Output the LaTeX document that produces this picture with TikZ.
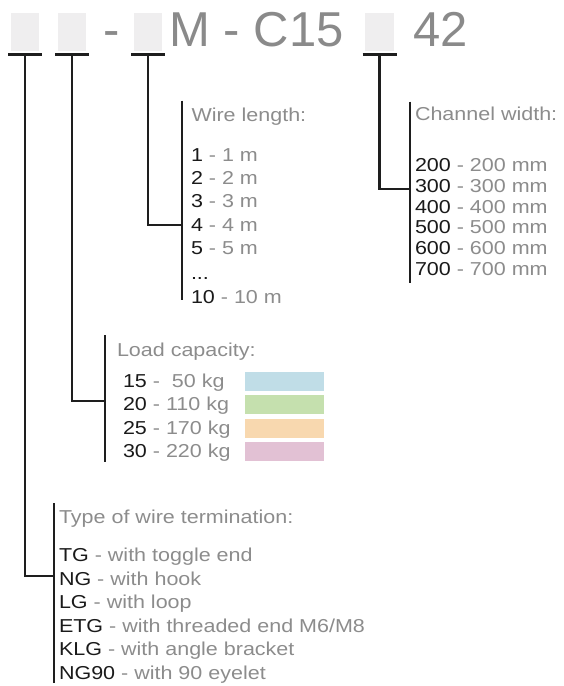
\documentclass[tikz,border=0pt]{standalone}
\usepackage{fontspec}
\setmainfont{Liberation Sans}
\newfontfamily\labfont[FakeStretch=1.15]{Liberation Sans}
\definecolor{txtgray}{HTML}{8C8C8C}
\definecolor{ttlgray}{HTML}{8A8A8A}
\definecolor{codecol}{HTML}{1A1A1A}
\definecolor{linecol}{HTML}{1E1E1E}
\definecolor{slotgray}{HTML}{EFEEEF}
\definecolor{swblue}{HTML}{C0DDE7}
\definecolor{swgreen}{HTML}{C5E0AE}
\definecolor{sworange}{HTML}{F8D8AF}
\definecolor{swpink}{HTML}{E2C1D4}
\newcommand{\cd}[1]{\textcolor{codecol}{#1}}
\tikzset{
  lbl/.style={anchor=base west, inner sep=0pt, outer sep=0pt, text=txtgray,
    font=\labfont\fontsize{18.7}{22}\selectfont},
  ttl/.style={anchor=base west, inner sep=0pt, outer sep=0pt, text=ttlgray,
    font=\fontsize{49}{58}\selectfont},
  slot/.style={fill=slotgray, draw=none, minimum width=28.5pt, minimum height=38pt, inner sep=0pt},
  conn/.style={draw=linecol, line width=2.2pt},
  swatch/.style={minimum width=79pt, minimum height=19pt, inner sep=0pt, draw=none, anchor=north west}
}
\begin{document}
\begin{tikzpicture}[x=1pt,y=-1pt]
\useasboundingbox (0,0) rectangle (564,686);
% title
\node[slot] (b1) at (25,32) {};
\node[slot] (b2) at (72,32) {};
\node[slot] (b3) at (148,32) {};
\node[slot] (b4) at (379.5,32) {};
\node[ttl] (h1) at (103.3,46) {-};
\node[ttl] (h2) at (169.4,46) {M - C15};
\node[ttl] (h3) at (413.7,46) {42};
% T bars
\foreach \n/\x in {1/25,2/72,3/148,4/379.5}{
  \coordinate (tl\n) at (\x-17,54.5);
  \coordinate (tr\n) at (\x+17,54.5);
  \coordinate (t\n) at (\x,54.5);
  \draw[conn] (tl\n) -- (tr\n);
}
% bracket bars
\coordinate (wa) at (182.3,100.7); \coordinate (wb) at (182.3,300);
\coordinate (ca) at (410,101.7);   \coordinate (cb) at (410,283.3);
\coordinate (la) at (105,335);     \coordinate (lb) at (105,461.7);
\coordinate (ya) at (54.3,503.3);  \coordinate (yb) at (54.3,683.3);
\draw[conn] (wa) -- (wb);
\draw[conn] (ca) -- (cb);
\draw[conn] (la) -- (lb);
\draw[conn] (ya) -- (yb);
% junctions
\coordinate (jw) at (182.3,225);
\coordinate (jc) at (410,189.3);
\coordinate (jl) at (105,401);
\coordinate (jy) at (54.3,576);
\draw[conn] (t1) |- (jy);
\draw[conn] (t2) |- (jl);
\draw[conn] (t3) |- (jw);
\draw[conn] (t4) |- (jc);
% wire length
\node[lbl] (wh) at (191.5,121.5) {Wire length:};
\node[lbl] (w1) at (191,161) {\cd{1} - 1 m};
\node[lbl] (w2) at (191,184.4) {\cd{2} - 2 m};
\node[lbl] (w3) at (191,207.8) {\cd{3} - 3 m};
\node[lbl] (w4) at (191,231.2) {\cd{4} - 4 m};
\node[lbl] (w5) at (191,254.6) {\cd{5} - 5 m};
\node[lbl] (wd) at (191,279) {\cd{...}};
\node[lbl] (w10) at (191,303) {\cd{10} - 10 m};
% channel width
\node[lbl] (ch) at (415,120) {Channel width:};
\node[lbl] (c1) at (415,171.7) {\cd{200} - 200 mm};
\node[lbl] (c2) at (415,192.4) {\cd{300} - 300 mm};
\node[lbl] (c3) at (415,213.1) {\cd{400} - 400 mm};
\node[lbl] (c4) at (415,233.8) {\cd{500} - 500 mm};
\node[lbl] (c5) at (415,254.5) {\cd{600} - 600 mm};
\node[lbl] (c6) at (415,275.2) {\cd{700} - 700 mm};
% load capacity
\node[lbl] (lh) at (117,356.7) {Load capacity:};
\node[lbl] (l1) at (123,387.3) {\cd{15} - \ 50 kg};
\node[lbl] (l2) at (123,410.7) {\cd{20} - 110 kg};
\node[lbl] (l3) at (123,434.1) {\cd{25} - 170 kg};
\node[lbl] (l4) at (123,457.5) {\cd{30} - 220 kg};
\node[swatch, fill=swblue]   (s1) at (245,371.7) {};
\node[swatch, fill=swgreen]  (s2) at (245,395.2) {};
\node[swatch, fill=sworange] (s3) at (245,418.7) {};
\node[swatch, fill=swpink]   (s4) at (245,442.2) {};
% termination
\node[lbl] (yh) at (59,523.3) {Type of wire termination:};
\node[lbl] (y1) at (59,561.7) {\cd{TG} - with toggle end};
\node[lbl] (y2) at (59,585.2) {\cd{NG} - with hook};
\node[lbl] (y3) at (59,608.6) {\cd{LG} - with loop};
\node[lbl] (y4) at (59,632) {\cd{ETG} - with threaded end M6/M8};
\node[lbl] (y5) at (59,655.5) {\cd{KLG} - with angle bracket};
\node[lbl] (y6) at (59,679) {\cd{NG90} - with 90 eyelet};
\end{tikzpicture}
\end{document}
